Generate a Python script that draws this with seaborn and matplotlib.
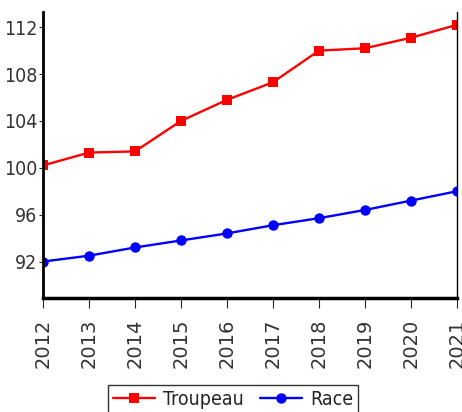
import pandas as pd
import matplotlib.pyplot as plt
import seaborn as sns

# Data
years = [2012, 2013, 2014, 2015, 2016, 2017, 2018, 2019, 2020, 2021]
troupeau = [100.2, 101.3, 101.4, 104.0, 105.8, 107.3, 110.0, 110.2, 111.1, 112.2]
race = [92.0, 92.5, 93.2, 93.8, 94.4, 95.1, 95.7, 96.4, 97.2, 98.0]

df = pd.DataFrame({"Année": years + years,
                   "Valeur": troupeau + race,
                   "Série": ["Troupeau"] * len(years) + ["Race"] * len(years)})

sns.set_style("white")
plt.rcParams['font.family'] = ['DejaVu Sans']
plt.rcParams['font.stretch'] = 'condensed'

fig = plt.figure(figsize=(4.62, 4.12), dpi=100)
ax = fig.add_axes([0.093, 0.277, 0.896, 0.694])

sns.lineplot(data=df, x="Année", y="Valeur", hue="Série", style="Série",
             palette={"Troupeau": "#ff0000", "Race": "#0000ff"},
             markers={"Troupeau": "s", "Race": "o"}, dashes=False,
             markersize=7.5, linewidth=1.7, markeredgewidth=0, ax=ax)

ax.set_xlim(2012, 2021)
ax.set_ylim(88.9, 113.3)
ax.set_xticks(years)
ax.set_xticklabels([str(y) for y in years], rotation=90, fontsize=14,
                   stretch='normal', color='#333333')
ax.set_yticks([92, 96, 100, 104, 108, 112])
ax.set_yticklabels(["92", "96", "100", "104", "108", "112"], fontsize=14,
                   color='#333333')
ax.tick_params(axis='y', length=3, pad=1, left=True, direction='out')
ax.tick_params(axis='x', length=7, pad=8, direction='out', bottom=True)
ax.set_xlabel("")
ax.set_ylabel("")

ax.spines["top"].set_visible(False)
ax.spines["left"].set_linewidth(2)
ax.spines["bottom"].set_linewidth(2.5)
ax.spines["right"].set_linewidth(1)
for s in ["left", "bottom", "right"]:
    ax.spines[s].set_color("black")

handles, labels = ax.get_legend_handles_labels()
ax.legend(handles, labels, loc="upper center", bbox_to_anchor=(0.459, -0.304),
          ncol=2, frameon=True, fancybox=False, edgecolor="black",
          fontsize=14, handlelength=2.2, columnspacing=0.8, borderpad=0.25,
          handletextpad=0.4, borderaxespad=0)

fig.savefig("out.png", dpi=100)
